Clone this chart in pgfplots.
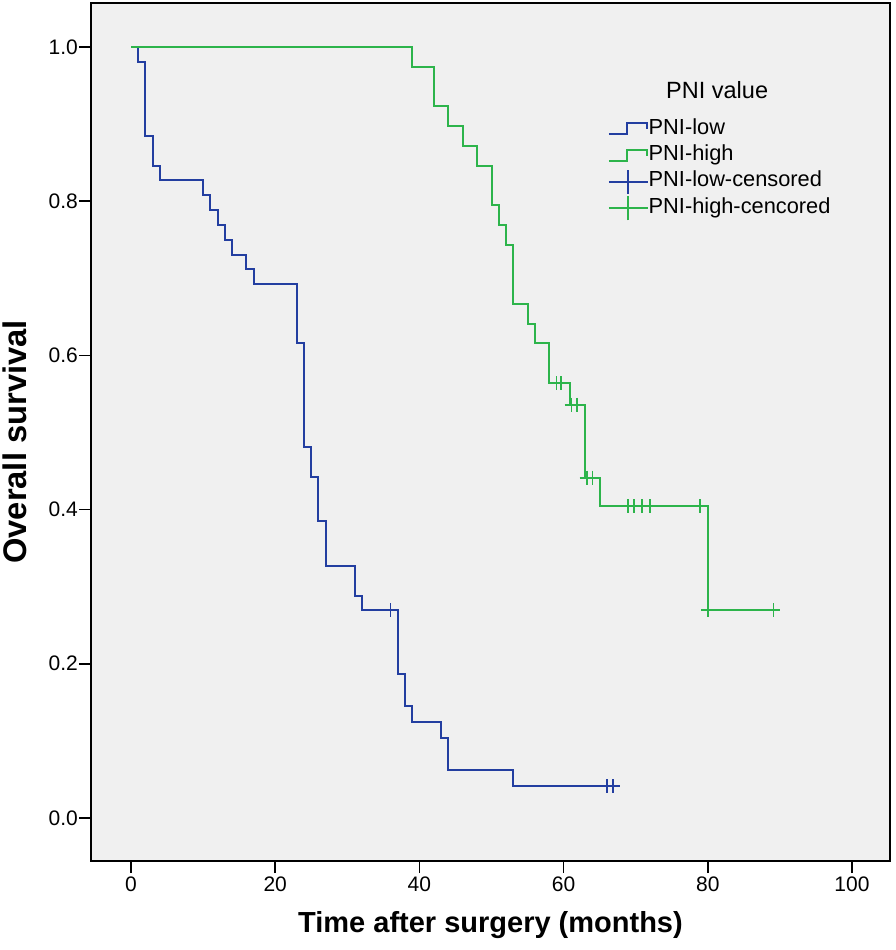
\documentclass[border=0pt]{standalone}
\usepackage{pgfplots}
\pgfplotsset{compat=1.18}
\usepackage{fontspec}
\setmainfont{Liberation Sans}
\definecolor{kmblue}{RGB}{35,62,160}
\definecolor{kmgreen}{RGB}{45,180,75}
\definecolor{bggray}{RGB}{240,240,240}
\pgfplotsset{
  kmstepb/.style={legend image code/.code={\draw[kmblue, line width=1.8bp] (0bp,-5bp) -- (18bp,-5bp) -- (18bp,6bp) -- (38bp,6bp) -- (38bp,0bp);}},
  kmstepg/.style={legend image code/.code={\draw[kmgreen, line width=1.8bp] (0bp,-5bp) -- (18bp,-5bp) -- (18bp,6bp) -- (38bp,6bp) -- (38bp,0bp);}},
  kmcensb/.style={legend image code/.code={\draw[kmblue, line width=1.8bp] (0bp,0bp) -- (39bp,0bp); \draw[kmblue, line width=1.8bp] (19bp,-12bp) -- (19bp,12bp);}},
  kmcensg/.style={legend image code/.code={\draw[kmgreen, line width=1.8bp] (0bp,0bp) -- (39bp,0bp); \draw[kmgreen, line width=1.8bp] (19bp,-12bp) -- (19bp,12bp);}},
}
\begin{document}
\begin{tikzpicture}
\begin{axis}[
  scale only axis,
  width=799bp, height=858bp,
  xmin=-5.55, xmax=105.27,
  ymin=-0.0558, ymax=1.057,
  axis background/.style={fill=bggray},
  axis line style={black, line width=1.8bp},
  xtick={0,20,40,60,80,100},
  ytick={0,0.2,0.4,0.6,0.8,1.0},
  tick align=outside,
  major tick length=12bp,
  tick style={black, line width=1.5bp},
  xtick pos=bottom, ytick pos=left,
  /pgf/number format/assume math mode=true,
  yticklabel style={/pgf/number format/.cd, fixed, fixed zerofill, precision=1},
  ticklabel style={font=\fontsize{21bp}{25bp}\selectfont, inner sep=1bp},
  xticklabel style={yshift=-3bp},
  xlabel={\textbf{Time after surgery (months)}},
  ylabel={\textbf{Overall survival}},
  xlabel style={font=\fontsize{29bp}{34bp}\selectfont, at={(axis description cs:0.5,0)}, anchor=center, yshift=-64bp},
  ylabel style={font=\fontsize{32.7bp}{38bp}\selectfont, at={(axis description cs:0,0.5)}, anchor=center, yshift=76bp, xshift=-10bp},
  legend style={draw=none, fill=none, at={(axis cs:65.7,0.913)}, anchor=north west,
    font=\fontsize{21.8bp}{24bp}\selectfont, row sep=0bp,
    nodes={inner sep=0bp, text height=18bp, text depth=8.3bp}},
  legend cell align=left,
]
\addplot[kmblue, line width=2bp, const plot, forget plot] coordinates {
(0,1) (1,0.9808) (2,0.8846) (3,0.8462) (4,0.8269) (10,0.8077) (11,0.7885) (12,0.7692)
(13,0.75) (14,0.7308) (16,0.7115) (17,0.6923) (23,0.6154) (24,0.4808) (25,0.4423)
(26,0.3846) (27,0.3269) (31,0.2885) (32,0.2692) (37,0.1864) (38,0.1450) (39,0.1243)
(43,0.1036) (44,0.0621) (53,0.0414) (67,0.0414)};
\addplot[kmgreen, line width=2bp, const plot, forget plot] coordinates {
(0,1) (39,0.9744) (42,0.9231) (44,0.8974) (46,0.8718) (48,0.8462) (50,0.7949)
(51,0.7692) (52,0.7436) (53,0.6667) (55,0.6410) (56,0.6154) (58,0.5641)
(60.9,0.5359) (63,0.4413) (65,0.4045) (80,0.2697) (89,0.2697)};
\addplot[kmblue, only marks, mark=+, mark size=7bp, line width=1.8bp, forget plot] coordinates {
(36,0.2692) (66,0.0414) (66.9,0.0414)};
\addplot[kmgreen, only marks, mark=+, mark size=7bp, line width=1.8bp, forget plot] coordinates {
(59,0.5641) (59.6,0.5641) (61.1,0.5359) (61.9,0.5359) (63.2,0.4413) (64,0.4413)
(68.9,0.4045) (69.8,0.4045) (70.9,0.4045) (72,0.4045) (78.9,0.4045) (80,0.2697) (89.1,0.2697)};
\addlegendimage{kmstepb}
\addlegendimage{kmstepg}
\addlegendimage{kmcensb}
\addlegendimage{kmcensg}
\legend{PNI-low, PNI-high, PNI-low-censored, PNI-high-cencored}
\node[font=\fontsize{23.5bp}{27bp}\selectfont] at (axis cs:81.3,0.944) {PNI value};
\end{axis}
\pgfresetboundingbox
\path (current axis.south west) ++(-91bp,-89bp) coordinate (bbA);
\path (current axis.north east) ++(6bp,3bp) coordinate (bbB);
\path[use as bounding box] (bbA) rectangle (bbB);
\end{tikzpicture}
\end{document}
